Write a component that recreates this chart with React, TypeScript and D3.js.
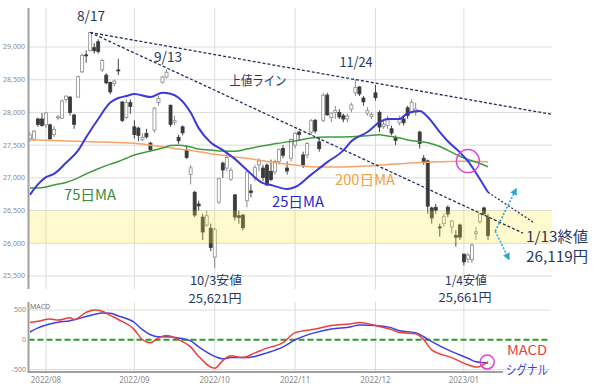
import React from 'react';
import * as d3 from 'd3';
import { useEffect, useRef } from 'react';

// daily candles: date, open, high, low, close
const candles: [string, number, number, number, number][] = [
  ['2022-07-26', 27600, 27700, 27550, 27655],
  ['2022-07-27', 27590, 27730, 27560, 27715],
  ['2022-07-28', 27900, 27920, 27780, 27815],
  ['2022-07-29', 27900, 27990, 27780, 27801],
  ['2022-08-01', 27810, 28000, 27760, 27993],
  ['2022-08-02', 27810, 27830, 27590, 27594],
  ['2022-08-03', 27660, 27790, 27620, 27741],
  ['2022-08-04', 27920, 27960, 27880, 27932],
  ['2022-08-05', 27910, 28200, 27900, 28175],
  ['2022-08-08', 28200, 28260, 28150, 28249],
  ['2022-08-09', 28235, 28250, 27950, 27999],
  ['2022-08-10', 27960, 27980, 27750, 27819],
  ['2022-08-12', 28235, 28560, 28230, 28546],
  ['2022-08-15', 28620, 28900, 28600, 28871],
  ['2022-08-16', 28880, 28950, 28760, 28868],
  ['2022-08-17', 28950, 29222, 28930, 29222],
  ['2022-08-18', 28990, 29060, 28900, 28942],
  ['2022-08-19', 29080, 29120, 28900, 28930],
  ['2022-08-22', 28650, 28820, 28620, 28794],
  ['2022-08-23', 28570, 28600, 28430, 28452],
  ['2022-08-24', 28460, 28470, 28280, 28313],
  ['2022-08-25', 28440, 28500, 28400, 28479],
  ['2022-08-26', 28650, 28820, 28570, 28641],
  ['2022-08-29', 28160, 28170, 27850, 27878],
  ['2022-08-30', 27920, 28200, 27900, 28150],
  ['2022-08-31', 28150, 28200, 27980, 28091],
  ['2022-09-01', 27780, 27880, 27600, 27661],
  ['2022-09-02', 27760, 27780, 27560, 27650],
  ['2022-09-05', 27580, 27680, 27560, 27619],
  ['2022-09-06', 27680, 27750, 27600, 27626],
  ['2022-09-07', 27530, 27550, 27400, 27430],
  ['2022-09-08', 27730, 28080, 27690, 28065],
  ['2022-09-09', 28150, 28250, 28100, 28214],
  ['2022-09-12', 28460, 28560, 28440, 28542],
  ['2022-09-13', 28540, 28659, 28520, 28614],
  ['2022-09-14', 28110, 28120, 27780, 27818],
  ['2022-09-15', 27850, 27950, 27800, 27875],
  ['2022-09-16', 27620, 27660, 27520, 27567],
  ['2022-09-20', 27780, 27800, 27650, 27688],
  ['2022-09-21', 27425, 27500, 27290, 27313],
  ['2022-09-22', 27050, 27200, 26900, 27153],
  ['2022-09-26', 26780, 26800, 26400, 26431],
  ['2022-09-27', 26600, 26650, 26500, 26571],
  ['2022-09-28', 26400, 26450, 26050, 26173],
  ['2022-09-29', 26280, 26500, 26250, 26422],
  ['2022-09-30', 26230, 26300, 25880, 25937],
  ['2022-10-03', 25790, 26240, 25621, 26215],
  ['2022-10-04', 26630, 27000, 26600, 26992],
  ['2022-10-05', 27225, 27250, 27000, 27120],
  ['2022-10-06', 27150, 27400, 27100, 27311],
  ['2022-10-07', 26980, 27160, 26950, 27116],
  ['2022-10-11', 26740, 26750, 26350, 26401],
  ['2022-10-12', 26420, 26500, 26300, 26396],
  ['2022-10-13', 26430, 26450, 26200, 26237],
  ['2022-10-14', 26650, 27100, 26550, 27090],
  ['2022-10-17', 26800, 26900, 26700, 26775],
  ['2022-10-18', 27000, 27200, 26950, 27156],
  ['2022-10-19', 27200, 27300, 27100, 27257],
  ['2022-10-20', 27150, 27200, 26950, 27006],
  ['2022-10-21', 27195, 27220, 26880, 26890],
  ['2022-10-24', 27100, 27280, 26950, 26974],
  ['2022-10-25', 27090, 27280, 27050, 27250],
  ['2022-10-26', 27250, 27450, 27200, 27431],
  ['2022-10-27', 27450, 27500, 27300, 27345],
  ['2022-10-28', 27150, 27250, 27050, 27105],
  ['2022-10-31', 27300, 27600, 27250, 27587],
  ['2022-11-01', 27500, 27700, 27450, 27678],
  ['2022-11-02', 27700, 27720, 27580, 27663],
  ['2022-11-04', 27350, 27400, 27150, 27199],
  ['2022-11-07', 27350, 27550, 27300, 27527],
  ['2022-11-08', 27700, 27900, 27650, 27872],
  ['2022-11-09', 27880, 27900, 27680, 27716],
  ['2022-11-10', 27550, 27600, 27400, 27446],
  ['2022-11-11', 27880, 28300, 27850, 28263],
  ['2022-11-14', 28265, 28300, 27950, 27963],
  ['2022-11-15', 27920, 28000, 27850, 27990],
  ['2022-11-16', 28000, 28100, 27900, 28028],
  ['2022-11-17', 28000, 28050, 27900, 27930],
  ['2022-11-18', 27950, 27980, 27850, 27899],
  ['2022-11-21', 27900, 27980, 27850, 27944],
  ['2022-11-22', 28050, 28150, 28000, 28115],
  ['2022-11-24', 28300, 28502, 28250, 28383],
  ['2022-11-25', 28390, 28400, 28250, 28283],
  ['2022-11-28', 28220, 28250, 28100, 28162],
  ['2022-11-29', 27990, 28080, 27950, 28027],
  ['2022-11-30', 27940, 28000, 27900, 27968],
  ['2022-12-01', 28300, 28420, 28180, 28226],
  ['2022-12-02', 28000, 28030, 27700, 27777],
  ['2022-12-05', 27780, 27900, 27750, 27820],
  ['2022-12-06', 27800, 27950, 27750, 27885],
  ['2022-12-07', 27750, 27800, 27650, 27686],
  ['2022-12-08', 27620, 27650, 27500, 27574],
  ['2022-12-09', 27840, 27950, 27800, 27901],
  ['2022-12-12', 27900, 27950, 27800, 27842],
  ['2022-12-13', 28070, 28100, 27900, 27954],
  ['2022-12-14', 28000, 28200, 27980, 28156],
  ['2022-12-15', 28000, 28150, 27950, 28051],
  ['2022-12-16', 27700, 27720, 27450, 27527],
  ['2022-12-19', 27300, 27350, 27200, 27237],
  ['2022-12-20', 27260, 27280, 26450, 26568],
  ['2022-12-21', 26540, 26560, 26300, 26387],
  ['2022-12-22', 26550, 26600, 26450, 26507],
  ['2022-12-23', 26250, 26300, 26100, 26235],
  ['2022-12-26', 26300, 26450, 26250, 26405],
  ['2022-12-27', 26550, 26580, 26400, 26447],
  ['2022-12-28', 26250, 26350, 26150, 26340],
  ['2022-12-29', 26120, 26200, 25950, 26093],
  ['2022-12-30', 26280, 26300, 26050, 26094],
  ['2023-01-04', 25834, 25840, 25661, 25716],
  ['2023-01-05', 25760, 25850, 25700, 25820],
  ['2023-01-06', 25750, 26000, 25700, 25973],
  ['2023-01-10', 26150, 26250, 26050, 26175],
  ['2023-01-11', 26330, 26460, 26300, 26446],
  ['2023-01-12', 26540, 26560, 26420, 26449],
  ['2023-01-13', 26400, 26450, 26050, 26119],
];

// moving averages at these dates
const maDates = [
  '2022-07-26', '2022-07-28', '2022-08-01', '2022-08-03', '2022-08-08', '2022-08-12', '2022-08-16',
  '2022-08-19', '2022-08-24', '2022-08-26', '2022-08-30', '2022-09-01', '2022-09-07', '2022-09-12',
  '2022-09-14', '2022-09-16', '2022-09-22', '2022-09-27', '2022-09-30', '2022-10-05', '2022-10-11',
  '2022-10-14', '2022-10-20', '2022-10-24', '2022-10-28', '2022-11-01', '2022-11-08', '2022-11-14',
  '2022-11-18', '2022-11-22', '2022-11-29', '2022-12-02', '2022-12-06', '2022-12-09', '2022-12-13',
  '2022-12-16', '2022-12-20', '2022-12-23', '2022-12-27', '2022-12-30', '2023-01-05', '2023-01-11',
  '2023-01-13',
];
const ma25 = [
  26740, 26900, 27010, 27060, 27230, 27420, 27620, 27900, 28150, 28220, 28250, 28280, 28235, 28300,
  28285, 28225, 28000, 27760, 27540, 27425, 27290, 27120, 26920, 26890, 26830, 26860, 27050, 27240,
  27420, 27560, 27700, 27850, 27900, 27900, 27990, 28020, 27930, 27700, 27560, 27390, 27255, 26980,
  26780,
];
const ma75 = [
  26845, 26845, 26860, 26890, 26930, 27000, 27060, 27140, 27210, 27250, 27300, 27350, 27410, 27455,
  27495, 27500, 27470, 27440, 27425, 27410, 27405, 27440, 27490, 27510, 27550, 27565, 27610, 27625,
  27625, 27630, 27645, 27660, 27640, 27610, 27580, 27555, 27535, 27480, 27420, 27330, 27280, 27220,
  27170,
];
const ma200 = [
  27580, 27578, 27575, 27570, 27565, 27560, 27555, 27548, 27545, 27540, 27535, 27530, 27500, 27475,
  27460, 27440, 27420, 27400, 27370, 27345, 27320, 27300, 27260, 27240, 27210, 27195, 27170, 27165,
  27165, 27170, 27180, 27195, 27205, 27215, 27225, 27235, 27240, 27245, 27250, 27255, 27255, 27250,
  27245,
];

// MACD panel
const macdDates = [
  '2022-07-26', '2022-07-28', '2022-08-02', '2022-08-04', '2022-08-09', '2022-08-10', '2022-08-16',
  '2022-08-18', '2022-08-22', '2022-08-24', '2022-08-26', '2022-09-01', '2022-09-05', '2022-09-07',
  '2022-09-09', '2022-09-13', '2022-09-16', '2022-09-22', '2022-09-27', '2022-10-03', '2022-10-05',
  '2022-10-07', '2022-10-13', '2022-10-18', '2022-10-21', '2022-10-27', '2022-11-01', '2022-11-09',
  '2022-11-15', '2022-11-22', '2022-11-25', '2022-12-01', '2022-12-07', '2022-12-09', '2022-12-15',
  '2022-12-19', '2022-12-21', '2022-12-28', '2023-01-05', '2023-01-10', '2023-01-13',
];
const macd = [
  290, 310, 350, 330, 370, 340, 460, 500, 480, 410, 340, 170, 0, -50, 30, 70, 0, -120, -280, -480,
  -350, -270, -300, -220, -140, -50, 120, 180, 240, 270, 290, 240, 170, 120, 100, 0, -170, -300,
  -420, -460, -370,
];
const signal = [
  130, 200, 265, 295, 320, 335, 390, 425, 450, 445, 400, 290, 170, 85, 50, 50, 30, -20, -120, -280,
  -320, -300, -300, -280, -220, -120, 0, 120, 180, 220, 250, 240, 200, 150, 120, 50, -30, -200,
  -310, -370, -390,
];

const priceTicks = [25500, 26000, 26500, 27000, 27500, 28000, 28500, 29000];
const macdTicks = [500, 0, -500];
const monthStarts = ['2022-08-01', '2022-09-01', '2022-10-03', '2022-11-01', '2022-12-01', '2023-01-04'];
const monthLabels = ['2022/08', '2022/09', '2022/10', '2022/11', '2022/12', '2023/01'];
const zoneBand = [26000, 26500];

// hand drawn guides, in [trading day index, price]
const upperLine = [[15, 29222], [129.9, 27970]];
const secondLine = [[15, 29222], [122.7, 26156]];
const ma25Forecast = [[114, 26780], [125.2, 26324]];
const arrowFrom = [115.8, 26186];
const arrowUp = [121.0, 26829];
const arrowDown = [119.2, 25758];
const crossMain = [109, 27257];
const crossMacd = [113.8, -373];

const navy = '#1f3864';
const font = '"Noto Sans CJK JP", "Noto Sans", sans-serif';

const notes: [string, number, number, number, string, number][] = [
  ['8/17', 91, 16, 14, navy, 28],
  ['9/13', 168, 57, 14, navy, 28],
  ['上値ライン', 258, 80, 13, navy, 57],
  ['11/24', 356, 62, 14, navy, 33],
  ['75日MA', 90, 195, 14, '#3b8b3b', 52],
  ['25日MA', 298, 202, 14, '#2828c8', 52],
  ['200日MA', 365, 180, 14, '#f0a43c', 60],
  ['10/3安値', 216, 281, 12.4, navy, 52],
  ['25,621円', 215, 299, 12.4, navy, 53],
  ['1/4安値', 466, 281, 12.4, navy, 42],
  ['25,661円', 465, 298, 12.4, navy, 53],
  ['1/13終値', 557, 237, 14.5, navy, 62],
  ['26,119円', 557, 257, 14.5, navy, 62],
  ['MACD', 527, 350, 13, '#e8413c', 40],
  ['シグナル', 527, 369, 13, '#3c3cd8', 42],
];

const App = () => {
  const chartRef = useRef<SVGSVGElement | null>(null);

  useEffect(() => {
    const svg = d3.select(chartRef.current);
    svg.selectAll('*').remove();

    const left = 28.5;
    const right = 552;
    const mainTop = 8;
    const mainBottom = 289;
    const macdTop = 302;
    const macdBottom = 372;

    const dayIndex = new Map(candles.map((c, i) => [c[0], i]));
    const x = d3.scaleLinear().domain([0, candles.length - 1]).range([29.9, 488]);
    const y = d3.scaleLinear().domain([25500, 29000]).range([276, 47]);
    const ym = d3.scaleLinear().domain([-500, 500]).range([369.5, 310]);

    // grid
    const grid = svg.append('g').attr('stroke', '#dcdcdc').attr('stroke-width', 1);
    priceTicks.forEach((t) => {
      grid.append('line').attr('x1', left).attr('x2', right).attr('y1', y(t)).attr('y2', y(t));
    });
    monthStarts.forEach((d) => {
      const gx = x(dayIndex.get(d) as number);
      grid.append('line').attr('x1', gx).attr('x2', gx).attr('y1', mainTop).attr('y2', mainBottom);
      grid.append('line').attr('x1', gx).attr('x2', gx).attr('y1', macdTop).attr('y2', macdBottom);
    });
    [500, -500].forEach((t) => {
      grid.append('line').attr('x1', left).attr('x2', 550).attr('y1', ym(t)).attr('y2', ym(t));
    });

    // candles
    const cg = svg.append('g');
    candles.forEach(([, o, h, l, c], i) => {
      const up = c >= o;
      const cx = x(i);
      cg.append('line')
        .attr('x1', cx).attr('x2', cx)
        .attr('y1', y(h)).attr('y2', y(l))
        .attr('stroke', up ? '#8a8a8a' : '#444')
        .attr('stroke-width', 1);
      const top = y(Math.max(o, c));
      const hgt = Math.max(1, Math.abs(y(o) - y(c)));
      cg.append('rect')
        .attr('x', cx - 1.5).attr('y', top)
        .attr('width', 3).attr('height', hgt)
        .attr('fill', up ? '#fff' : '#3a3a3a')
        .attr('stroke', up ? '#8a8a8a' : '#3a3a3a')
        .attr('stroke-width', 0.8);
    });

    // support zone
    svg.append('rect')
      .attr('x', left + 0.5).attr('y', y(zoneBand[1]))
      .attr('width', right - left - 0.5).attr('height', y(zoneBand[0]) - y(zoneBand[1]))
      .attr('fill', '#ffec3d').attr('opacity', 0.25);

    // moving averages
    const maLine = d3.line<[number, number]>()
      .x((d) => x(d[0])).y((d) => y(d[1]))
      .curve(d3.curveMonotoneX);
    const maSeries: [number[], string, number][] = [
      [ma200, '#f5a46a', 1.5],
      [ma75, '#3f9a3f', 1.5],
      [ma25, '#3a3ad8', 2],
    ];
    maSeries.forEach(([vals, col, w]) => {
      const pts = maDates.map((d, k) => [dayIndex.get(d) as number, vals[k]] as [number, number]);
      svg.append('path').attr('d', maLine(pts)).attr('fill', 'none')
        .attr('stroke', col).attr('stroke-width', w);
    });

    // guide lines
    const plain = d3.line<number[]>().x((d) => x(d[0])).y((d) => y(d[1]));
    svg.append('path').attr('d', plain(upperLine)).attr('fill', 'none')
      .attr('stroke', '#1f2f5a').attr('stroke-width', 1.3).attr('stroke-dasharray', '3,2');
    svg.append('path').attr('d', plain(secondLine)).attr('fill', 'none')
      .attr('stroke', '#1f2f5a').attr('stroke-width', 1.3).attr('stroke-dasharray', '3,2');
    svg.append('path').attr('d', plain(ma25Forecast)).attr('fill', 'none')
      .attr('stroke', '#2a2a7a').attr('stroke-width', 1.3).attr('stroke-dasharray', '2,2');

    // arrows
    const defs = svg.append('defs');
    defs.append('marker')
      .attr('id', 'arrowHead').attr('viewBox', '0 0 10 10')
      .attr('refX', 8).attr('refY', 5)
      .attr('markerWidth', 4.5).attr('markerHeight', 4.5)
      .attr('orient', 'auto')
      .append('path').attr('d', 'M0,0 L10,5 L0,10 z').attr('fill', '#23a8d8');
    [arrowUp, arrowDown].forEach((tip) => {
      svg.append('path').attr('d', plain([arrowFrom, tip])).attr('fill', 'none')
        .attr('stroke', '#23a8d8').attr('stroke-width', 1.6).attr('stroke-dasharray', '2,1.6')
        .attr('marker-end', 'url(#arrowHead)');
    });

    // crossing marks
    svg.append('circle')
      .attr('cx', x(crossMain[0])).attr('cy', y(crossMain[1])).attr('r', 11.5)
      .attr('fill', 'none').attr('stroke', '#e040d8').attr('stroke-width', 1.5);

    // MACD panel
    svg.append('line')
      .attr('x1', left).attr('x2', 550).attr('y1', ym(0)).attr('y2', ym(0))
      .attr('stroke', '#2a9d2a').attr('stroke-width', 2).attr('stroke-dasharray', '6,3');
    const mLine = d3.line<[number, number]>()
      .x((d) => x(d[0])).y((d) => ym(d[1]))
      .curve(d3.curveMonotoneX);
    const mSeries: [number[], string][] = [[signal, '#4040e0'], [macd, '#e8413c']];
    mSeries.forEach(([vals, col]) => {
      const pts = macdDates.map((d, k) => [dayIndex.get(d) as number, vals[k]] as [number, number]);
      svg.append('path').attr('d', mLine(pts)).attr('fill', 'none')
        .attr('stroke', col).attr('stroke-width', 1.5);
    });
    svg.append('circle')
      .attr('cx', x(crossMacd[0])).attr('cy', ym(crossMacd[1])).attr('r', 7)
      .attr('fill', 'none').attr('stroke', '#e040d8').attr('stroke-width', 1.5);

    // axes
    const ax = svg.append('g').attr('stroke', '#a0a0a0').attr('stroke-width', 2);
    ax.append('line').attr('x1', left).attr('x2', left).attr('y1', mainTop).attr('y2', mainBottom);
    ax.append('line').attr('x1', left).attr('x2', left).attr('y1', macdTop).attr('y2', macdBottom);
    ax.append('line').attr('x1', left - 1).attr('x2', 503).attr('y1', macdBottom).attr('y2', macdBottom);

    const fmt = d3.format(',');
    priceTicks.forEach((t) => {
      svg.append('text').attr('x', 25).attr('y', y(t)).attr('dy', '0.35em')
        .attr('text-anchor', 'end').attr('font-size', 7).attr('fill', '#8a8a8a')
        .attr('font-family', '"Noto Sans", sans-serif').text(fmt(t));
    });
    macdTicks.forEach((t) => {
      svg.append('text').attr('x', 26).attr('y', ym(t)).attr('dy', '0.35em')
        .attr('text-anchor', 'end').attr('font-size', 7).attr('fill', '#8a8a8a')
        .attr('font-family', '"Noto Sans", sans-serif').text(t);
    });
    monthStarts.forEach((d, k) => {
      svg.append('text').attr('x', x(dayIndex.get(d) as number)).attr('y', 383)
        .attr('text-anchor', 'middle').attr('font-size', 8).attr('fill', '#8a8a8a')
        .attr('font-family', '"Noto Sans", sans-serif').text(monthLabels[k]);
    });
    svg.append('text').attr('x', 30).attr('y', 309).attr('font-size', 7).attr('fill', '#777')
      .attr('font-family', '"Noto Sans", sans-serif').text('MACD');

    // annotations
    notes.forEach(([txt, tx, ty, size, col, len]) => {
      svg.append('text')
        .attr('x', tx).attr('y', ty).attr('dy', '0.35em')
        .attr('text-anchor', 'middle')
        .attr('font-family', font).attr('font-size', size).attr('fill', col)
        .attr('textLength', len).attr('lengthAdjust', 'spacingAndGlyphs')
        .text(txt);
    });
  }, []);

  return (
    <svg ref={chartRef} width={600} height={389}
      style={{ position: 'absolute', left: 0, top: 0, background: '#fff' }} />
  );
};

export default App;
